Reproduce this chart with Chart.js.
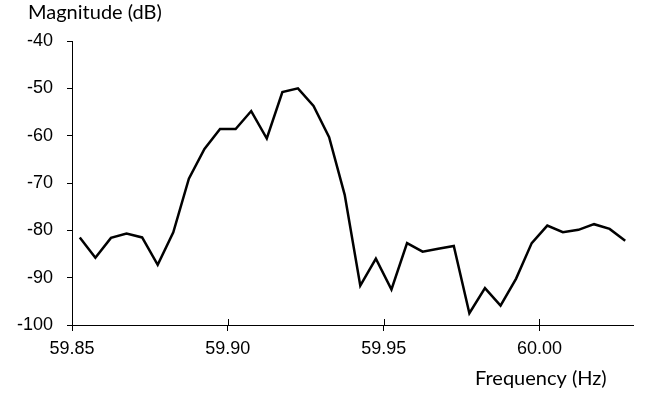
<!DOCTYPE html>
<html>
<head>
<meta charset="utf-8">
<script src="https://cdn.jsdelivr.net/npm/chart.js@4"></script>
<style>
  html, body { margin: 0; padding: 0; background: #fff; }
</style>
</head>
<body>
<canvas id="chart" width="652" height="393"></canvas>
<script>
// frequency (Hz) of each spectrum bin
const frequencies = [
    59.8525, 59.8575, 59.8625, 59.8675, 59.8725, 59.8775, 59.8825, 59.8875, 59.8925,
    59.8975, 59.9025, 59.9075, 59.9125, 59.9175, 59.9225, 59.9275, 59.9325, 59.9375,
    59.9425, 59.9475, 59.9525, 59.9575, 59.9625, 59.9675, 59.9725, 59.9775, 59.9825,
    59.9875, 59.9925, 59.9975, 60.0025, 60.0075, 60.0125, 60.0175, 60.0225, 60.0275
]
// magnitude (dB)
const magnitudes = [
    -81.5, -85.8, -81.6, -80.7, -81.5, -87.3, -80.4, -69.1, -62.8,
    -58.6, -58.6, -54.8, -60.6, -50.8, -50.0, -53.7, -60.3, -72.5,
    -91.7, -86.0, -92.5, -82.7, -84.5, -83.9, -83.3, -97.5, -92.2,
    -95.9, -90.2, -82.7, -79.0, -80.4, -79.9, -78.7, -79.7, -82.2
]
const xTicks = [59.85, 59.90, 59.95, 60.00]
const yTicks = [-100, -90, -80, -70, -60, -50, -40]

const tickFont = { family: "'Liberation Sans', Arial, sans-serif", size: 18 }

// Excel style axis titles + x tick marks crossing the axis line
const extras = {
    id: 'extras',
    afterDraw(chart) {
        const { ctx, scales } = chart
        ctx.save()
        ctx.strokeStyle = '#000'
        ctx.lineWidth = 1
        const yAxis = scales.x.top
        xTicks.forEach(v => {
            const px = Math.round(scales.x.getPixelForValue(v)) + 0.5
            ctx.beginPath()
            ctx.moveTo(px, yAxis - 6)
            ctx.lineTo(px, yAxis)
            ctx.stroke()
        })
        ctx.fillStyle = '#000'
        ctx.font = "20px Lato, 'Noto Sans', sans-serif"
        ctx.textAlign = 'left'
        ctx.textBaseline = 'alphabetic'
        ctx.fillText('Magnitude (dB)', 28, 19)
        ctx.fillText('Frequency (Hz)', 475, 385)
        ctx.restore()
    }
}

new Chart(document.getElementById('chart').getContext('2d'), {
    type: 'line',
    data: {
        datasets: [{
            label: 'Magnitude',
            data: frequencies.map((f, i) => ({ x: f, y: magnitudes[i] })),
            borderColor: '#000',
            borderWidth: 2.5,
            pointRadius: 0,
            tension: 0,
            fill: false
        }]
    },
    options: {
        responsive: false,
        animation: false,
        layout: { padding: { left: 0, top: 41, right: 19, bottom: 0 } },
        plugins: {
            legend: { display: false },
            tooltip: { enabled: false },
            title: { display: false }
        },
        scales: {
            x: {
                type: 'linear',
                min: 59.85,
                max: 60.03,
                afterBuildTicks: axis => { axis.ticks = xTicks.map(v => ({ value: v })) },
                afterFit: axis => { axis.height = 68 },
                ticks: {
                    font: tickFont,
                    color: '#000',
                    padding: 7,
                    maxRotation: 0,
                    autoSkip: false,
                    callback: v => v.toFixed(2)
                },
                grid: { drawOnChartArea: false, tickLength: 6, color: '#000' },
                border: { color: '#000', width: 1 }
            },
            y: {
                min: -100,
                max: -40,
                afterBuildTicks: axis => { axis.ticks = yTicks.map(v => ({ value: v })) },
                afterFit: axis => { axis.width = 72 },
                ticks: {
                    font: tickFont,
                    color: '#000',
                    padding: 14,
                    autoSkip: false
                },
                grid: { drawOnChartArea: false, tickLength: 5, color: '#000' },
                border: { color: '#000', width: 1 }
            }
        }
    },
    plugins: [extras]
})
</script>
</body>
</html>
